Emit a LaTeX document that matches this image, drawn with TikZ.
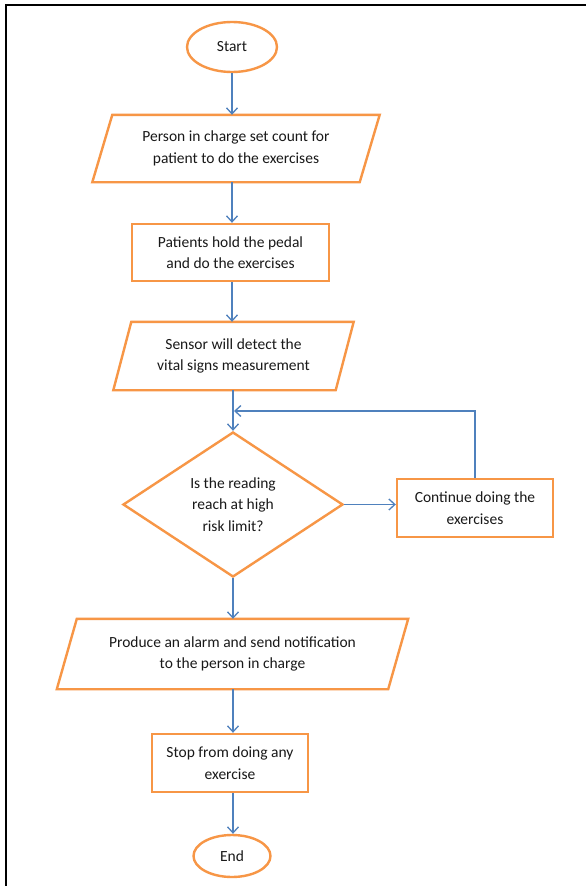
\documentclass[tikz,border=0pt]{standalone}
\usepackage{fontspec}
\setmainfont{Carlito}
\usetikzlibrary{shapes.geometric,arrows.meta,calc}
\definecolor{oline}{RGB}{247,150,70}
\definecolor{bline}{RGB}{79,129,189}
\begin{document}
\begin{tikzpicture}[x=1pt,y=-1pt,
  txt/.style={font=\fontsize{15.5}{21.5}\selectfont, align=center, text=black!90, inner sep=0pt},
  obox/.style={txt, draw=oline, line width=2.4pt, rectangle},
  pbox/.style={txt, rectangle, draw=none},
  pshape/.style={draw=oline, line width=2.4pt, line join=miter},
  oval/.style={txt, draw=oline, line width=2.4pt, ellipse},
  dec/.style={txt, draw=oline, line width=2.4pt, diamond},
  arr/.style={draw=bline, line width=1.4pt, -{Straight Barb[length=6pt,width=11pt,line width=1.3pt]}}
]
\useasboundingbox (0,0) rectangle (586,886);
\fill[white] (0,0) rectangle (586,886);
\draw[line width=2pt] (6,886) -- (6,5) -- (586,5);

\node[oval, minimum width=90pt, minimum height=50pt] (start) at (232,47) {Start};

\node[pbox, minimum width=267pt, minimum height=67pt] (p1) at (236,148.5) {Person in charge set count for\\patient to do the exercises};
\draw[pshape] ([xshift=10pt]p1.north west) -- ([xshift=10pt]p1.north east) -- ([xshift=-10pt]p1.south east) -- ([xshift=-10pt]p1.south west) -- cycle;

\node[obox, minimum width=197pt, minimum height=57pt] (p2) at (230.5,252.5) {Patients hold the pedal\\and do the exercises};

\node[pbox, minimum width=222pt, minimum height=68pt] (p3) at (233.5,356) {Sensor will detect the\\vital signs measurement};
\draw[pshape] ([xshift=9pt]p3.north west) -- ([xshift=9pt]p3.north east) -- ([xshift=-9pt]p3.south east) -- ([xshift=-9pt]p3.south west) -- cycle;

\node[dec, minimum width=220pt, minimum height=145pt] (d) at (233,504.5) {Is the reading\\reach at high\\risk limit?};

\node[obox, minimum width=156pt, minimum height=58pt] (c) at (475,508) {Continue doing the\\exercises};

\node[pbox, minimum width=331pt, minimum height=70pt] (p4) at (232.5,654) {Produce an alarm and send notification\\to the person in charge};
\draw[pshape] ([xshift=10pt]p4.north west) -- ([xshift=10pt]p4.north east) -- ([xshift=-10pt]p4.south east) -- ([xshift=-10pt]p4.south west) -- cycle;

\node[obox, minimum width=156pt, minimum height=58pt] (s) at (230,763) {Stop from doing any\\exercise};

\node[oval, minimum width=77pt, minimum height=42pt] (end) at (232,856) {End};

\coordinate (junc) at (234,411);

\draw[arr] (start.south) -- (start.south |- p1.north);
\draw[arr] (p1.south -| start.south) -- (start.south |- p2.north);
\draw[arr] (p2.south -| start.south) -- (start.south |- p3.north);
\draw[arr] (p3.south -| d.north) -- (d.north);
\draw[arr] (c.north) |- (junc);
\draw[arr] (d.east) -- (d.east -| c.west);
\draw[arr] (d.south) -- (d.south |- p4.north);
\draw[arr] (p4.south -| d.south) -- (d.south |- s.north);
\draw[arr] (s.south -| d.south) -- (d.south |- end.north);
\end{tikzpicture}
\end{document}
